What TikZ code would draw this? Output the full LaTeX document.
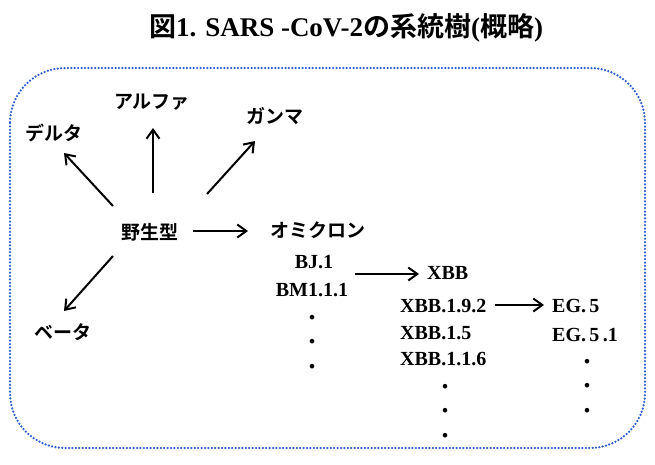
\documentclass[tikz,border=0pt]{standalone}
\usepackage{fontspec}
\setmainfont{Liberation Serif}
\newfontfamily\cjk{Noto Sans CJK JP}[BoldFont={* Bold}]
\usetikzlibrary{arrows.meta}
\definecolor{dotblue}{RGB}{45,95,210}
\tikzset{
  jlabel/.style={font=\cjk\bfseries\fontsize{19}{19}\selectfont, inner sep=0pt},
  llabel/.style={font=\bfseries\fontsize{20}{20}\selectfont, inner sep=0pt},
  dotcol/.style={font=\cjk\bfseries\fontsize{18}{24.5}\selectfont, inner sep=0pt, align=center},
  arr/.style={line width=2pt, -{Straight Barb[length=9pt,width=13pt]}},
  border/.style={draw=dotblue, line width=2.5pt, line cap=round, dash pattern=on 0pt off 3.4pt, rounded corners=55pt}
}
\begin{document}
\begin{tikzpicture}[x=1pt,y=-1pt]
\useasboundingbox (0,0) rectangle (655,464);
% title
\node[inner sep=0pt, font=\bfseries\fontsize{27}{27}\selectfont] (title) at (346,28)
  {{\cjk\bfseries 図}1. SARS -CoV-2{\cjk\bfseries の系統樹}({\cjk\bfseries 概略})};
% border
\draw[border] (10,68) rectangle (645,448);
% nodes
\node[jlabel] (wild) at (150,232) {野生型};
\node[jlabel] (alpha) at (152,102) {アルファ};
\node[jlabel] (gamma) at (275,116) {ガンマ};
\node[jlabel] (delta) at (54,133) {デルタ};
\node[jlabel] (beta) at (63,332) {ベータ};
\node[jlabel] (omicron) at (318,230) {オミクロン};
\node[llabel] (bj) at (314,262) {BJ.1};
\node[llabel] (bm) at (312,290) {BM1.1.1};
\node[dotcol] (dcolA) at (312,344) {・\\・\\・};
\node[llabel, anchor=west] (xbb) at (427,273) {XBB};
\node[llabel, anchor=west] (xbb192) at (400,306) {XBB.1.9.2};
\node[llabel, anchor=west] (xbb15) at (400,333) {XBB.1.5};
\node[llabel, anchor=west] (xbb116) at (400,359) {XBB.1.1.6};
\node[dotcol] (dcolB) at (445,413) {・\\・\\・};
\node[llabel, anchor=west] (eg5) at (552,306) {EG.\,5};
\node[llabel, anchor=west] (eg51) at (552,335) {EG.\,5\,.1};
\node[dotcol] (dcolC) at (587,388) {・\\・\\・};
% connector endpoints
\coordinate (wUp) at (153,193);
\coordinate (aDown) at (153,128);
\coordinate (wDL) at (113,206);
\coordinate (dEnd) at (64,153);
\coordinate (wGR) at (207,194);
\coordinate (gEnd) at (255,141);
\coordinate (wBL) at (113,256);
\coordinate (bEnd) at (64,311);
\coordinate (wR) at (193,231);
\coordinate (oEnd) at (248,231);
\coordinate (bjR) at (355,274);
\coordinate (xbbL) at (419,274);
\coordinate (x192R) at (495,305);
\coordinate (egL) at (544,305);
% arrows
\draw[arr] (wUp) -- (aDown);
\draw[arr] (wDL) -- (dEnd);
\draw[arr] (wGR) -- (gEnd);
\draw[arr] (wBL) -- (bEnd);
\draw[arr] (wR) -- (oEnd);
\draw[arr] (bjR) -- (xbbL);
\draw[arr] (x192R) -- (egL);
\end{tikzpicture}
\end{document}
